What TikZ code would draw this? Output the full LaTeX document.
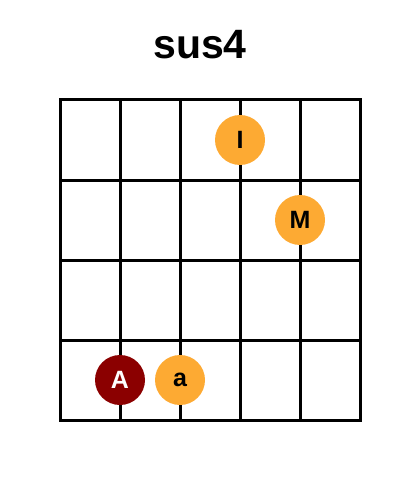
\documentclass[tikz,border=0pt]{standalone}
\usepackage{fontspec}
\setmainfont{Liberation Sans}
\usepackage{tikz}
\definecolor{fingerorange}{HTML}{FDAA33}
\definecolor{rootred}{HTML}{8B0000}
\tikzset{
fret/.style={line width=3pt, line cap=rect},
finger/.style={circle, fill=fingerorange, minimum size=50pt, inner sep=0pt, font=\bfseries\fontsize{25}{25}\selectfont},
root/.style={finger, fill=rootred, text=white},
title/.style={font=\bfseries\fontsize{41}{41}\selectfont}
}

\begin{document}
\begin{tikzpicture}[x=1pt, y=-1pt]
			\useasboundingbox (0,0) rectangle (400,500);
			\node[title] (T) at (200,45) {sus4};
			% ----
			\foreach \x in {60,120,...,360}
				\draw[fret] (\x,100) -- (\x,420);
			\foreach \y in {100,180,...,420}
				\draw[fret] (60,\y) -- (360,\y);
			% ----
			\node[finger] (I) at (240,140) {I};
			\node[finger] (M) at (300,220) {M};
			\node[root] (A) at (120,380) {A};
			\node[finger] (a) at (180,380) {a};
		\end{tikzpicture}
\end{document}
